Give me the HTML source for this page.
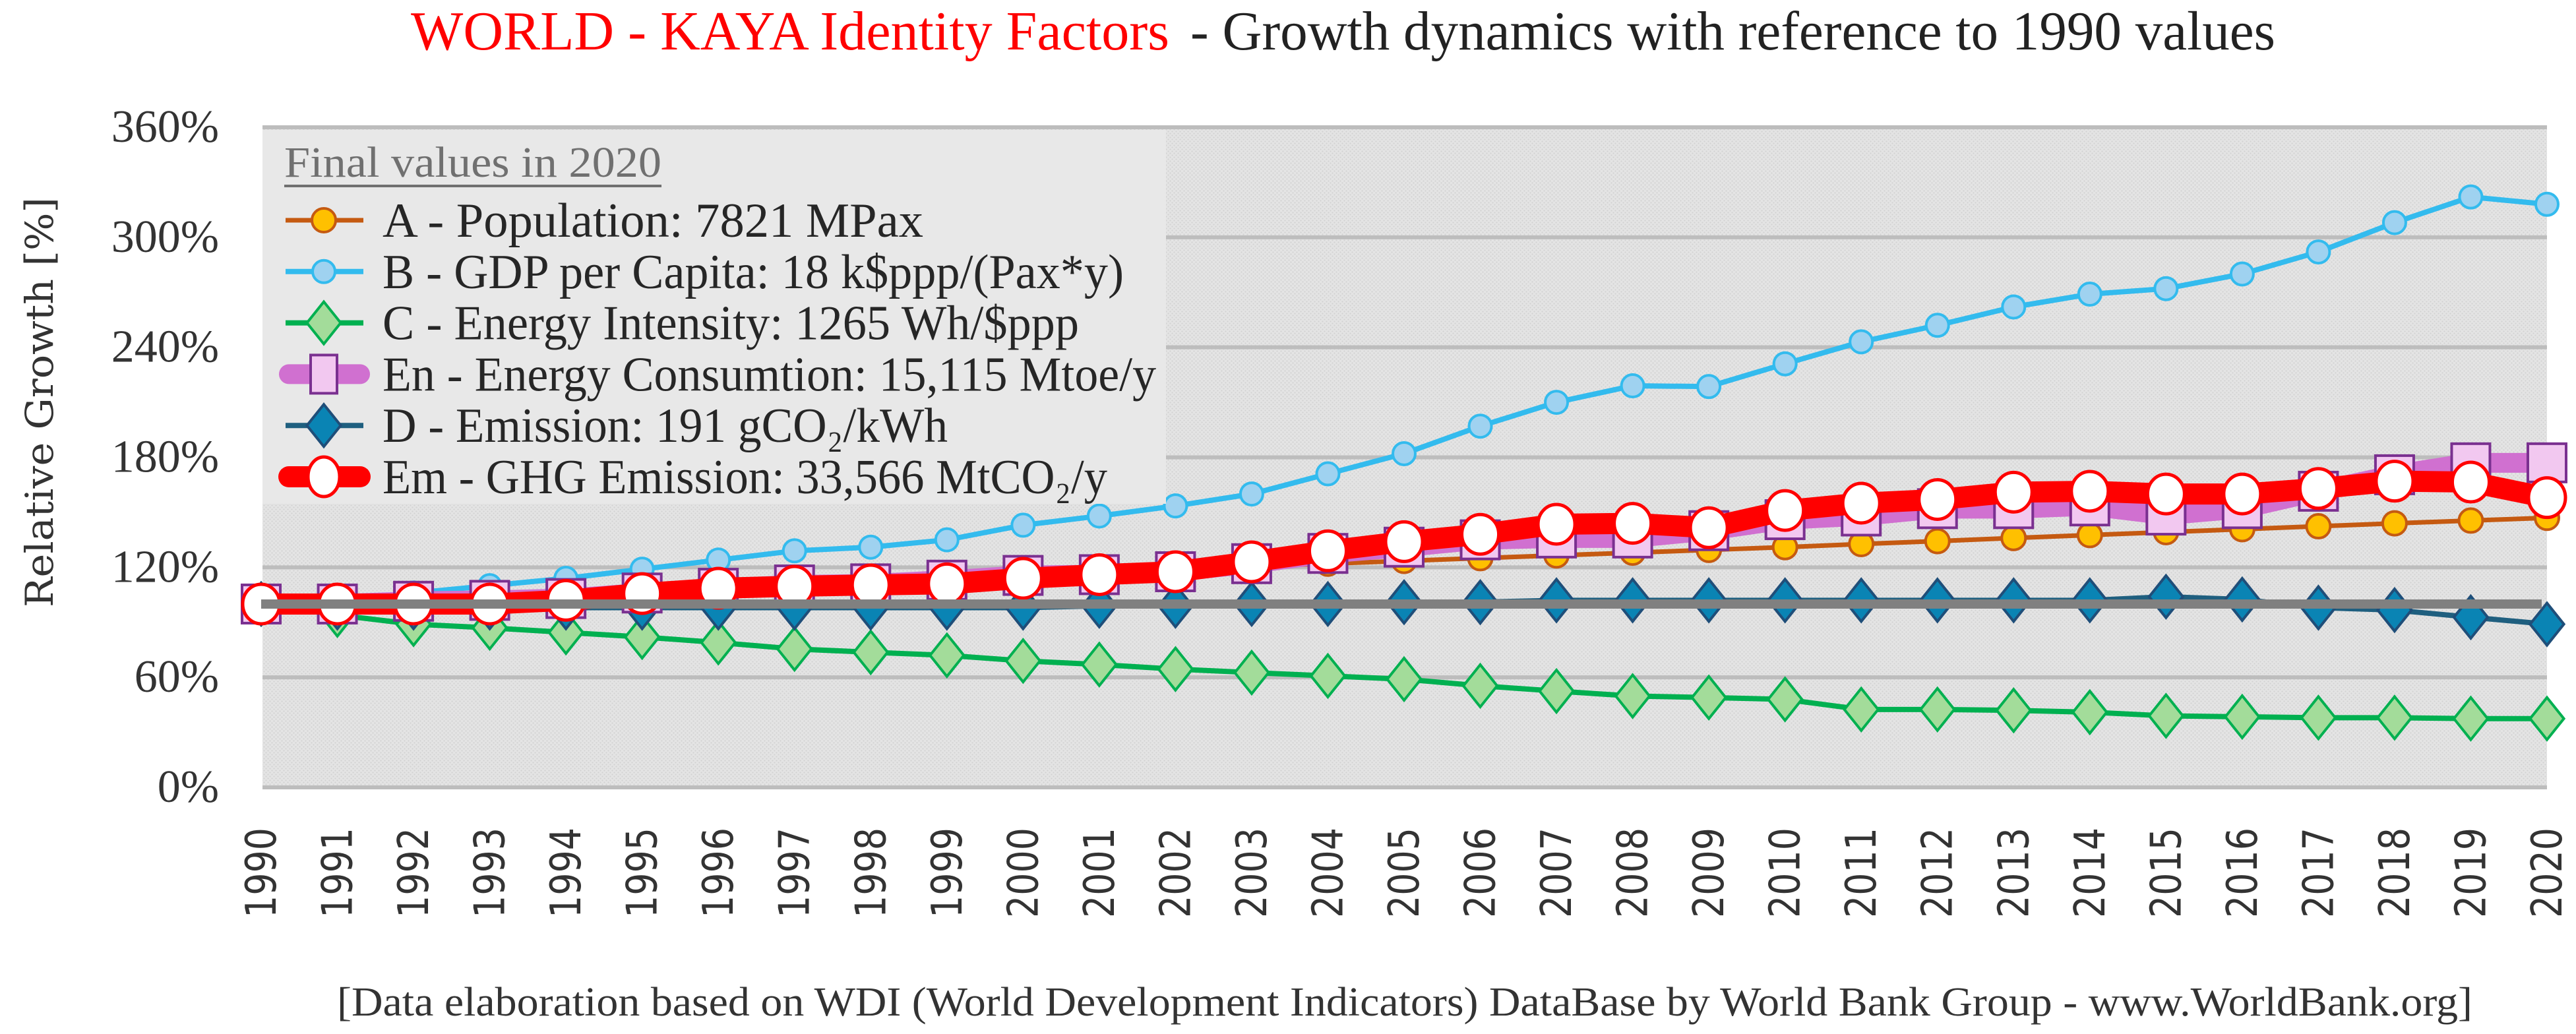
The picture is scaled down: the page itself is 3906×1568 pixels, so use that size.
<!DOCTYPE html>
<html><head><meta charset="utf-8"><style>
html,body{margin:0;padding:0;background:#fff;}
svg{display:block;}
</style></head><body>
<svg id="chart" width="3906" height="1568" viewBox="0 0 3906 1568" xmlns="http://www.w3.org/2000/svg">
<defs>
<pattern id="dots" width="6" height="6" patternUnits="userSpaceOnUse">
<rect width="6" height="6" fill="#e4e4e4"/>
<circle cx="1.5" cy="1.5" r="1.1" fill="#d2d2d2"/>
<circle cx="4.5" cy="4.5" r="1.1" fill="#d2d2d2"/>
</pattern>
</defs>
<text x="623" y="75" font-family="Liberation Serif, serif" font-size="84" fill="#ff0000" textLength="1150" lengthAdjust="spacingAndGlyphs">WORLD - KAYA Identity Factors</text>
<text x="1805" y="75" font-family="Liberation Serif, serif" font-size="84" fill="#222" textLength="1645" lengthAdjust="spacingAndGlyphs">- Growth dynamics with reference to 1990 values</text>
<rect x="398" y="193" width="3464" height="1001" fill="url(#dots)"/>
<g id="grid"></g>
<g id="yticks"></g>
<g id="xticks"></g>
<text transform="translate(80,610) rotate(-90)" text-anchor="middle" font-family="DejaVu Serif, serif" font-size="58" fill="#333" textLength="622" lengthAdjust="spacingAndGlyphs">Relative Growth [%]</text>
<g id="series"></g>
<g id="legend"></g>
<text x="511" y="1540" font-family="Liberation Serif, serif" font-size="62" fill="#333" textLength="3238" lengthAdjust="spacingAndGlyphs">[Data elaboration based on WDI (World Development Indicators) DataBase by World Bank Group - www.WorldBank.org]</text>
</svg>
<script>
const years = [1990,1991,1992,1993,1994,1995,1996,1997,1998,1999,2000,2001,2002,2003,2004,2005,2006,2007,2008,2009,2010,2011,2012,2013,2014,2015,2016,2017,2018,2019,2020];
const yTicks = [0,60,120,180,240,300,360];
const popA = [100,101.7,103.3,104.9,106.5,108,109.5,111,112.5,114,116,117.5,119,120.5,122,123.5,125,126.5,128,129.5,131,132.7,134.3,136,137.6,139.2,140.8,142.4,144,145.5,147];
const gdpB = [100,102,106,110,114,119,124,129,131,135,143,148,153.5,160,171,182,197,210,219,218.6,231,243,252,262,269,272,280,292,308,322,318];
const intC = [100,94,89,87,84.5,82,79,75.5,73.7,72,69,67,64.5,62.6,60.8,59,55.4,52.5,49.8,49,48,42.5,42.5,42,41,39,38.5,38,38,37.5,37.5];
const energyEn = [100,100,101.5,102,103,106,108.6,110.4,111,113,115.6,116,117.6,122,127.6,131,135,136,136,140,146,148,152,152,153.5,148.5,152,161.5,170.5,177,177];
const emisD = [100,98,98,98,98,98,98,98,98,98,98,99,99,100,100,101,101,102,102,102,102,102,102,102,102,104,102.5,98,96.7,92.8,89];
const ghgEm = [100,100,100,100,102,105.7,108.6,109.7,110.4,111,114,116,117.6,123,129,134,138,143.5,144,141.6,151,155,157,161,161.5,160,160,163,167,166.5,158];
const baseline = 100;

const NS='http://www.w3.org/2000/svg';
const X0=396, X1=3862, Y0=1194, Y1=193;
function xs(i){return X0+(X1-X0)*i/(years.length-1);}
function ys(v){return Y0-(Y0-Y1)*v/360;}
function mk(tag,attrs,parent){const e=document.createElementNS(NS,tag);for(const k in attrs)e.setAttribute(k,attrs[k]);parent.appendChild(e);return e;}

const grid=document.getElementById('grid'), yt=document.getElementById('yticks'), xt=document.getElementById('xticks');
yTicks.forEach(v=>{
  const l=mk('line',{x1:398,x2:3862,y1:ys(v),y2:ys(v),stroke:'#bdbdbd','stroke-width':6},grid);
  
  
  const t=mk('text',{x:332,y:ys(v)+22,'text-anchor':'end','font-family':'Liberation Serif, serif','font-size':70,fill:'#333'},yt);
  t.textContent=v+'%';
  
  
});
years.forEach((y,i)=>{
  const t=mk('text',{transform:'translate('+(xs(i)+22)+',1255) rotate(-90)','text-anchor':'end','font-family':'DejaVu Sans, sans-serif','font-size':64,fill:'#333',textLength:137,lengthAdjust:'spacingAndGlyphs'},xt);
  t.textContent=y;
  
  
});

const S=document.getElementById('series');
function pts(arr){return arr.map((v,i)=>xs(i)+','+ys(v)).join(' ');}
function diamond(g,cx,cy,r,fill,stroke){return mk('polygon',{points:`${cx},${cy-r} ${cx+r*0.8},${cy} ${cx},${cy+r} ${cx-r*0.8},${cy}`,fill:fill,stroke:stroke,'stroke-width':4},g);}
function drawSeries(name,arr,lineColor,lw,marker){
  const g=mk('g',{},S);
  
  
  const pl=mk('polyline',{points:pts(arr),fill:'none',stroke:lineColor,'stroke-width':lw,'stroke-linejoin':'round','stroke-linecap':'round'},g);
  
  
  arr.forEach((v,i)=>{
    const m=marker(g,xs(i),ys(v));
    
    
  });
}
drawSeries('series-c-energy-intensity',intC,'#00b050',8,(g,x,y)=>diamond(g,x,y,32,'#a3dc9a','#00b050'));
drawSeries('series-d-emission',emisD,'#1f5f7f',8,(g,x,y)=>diamond(g,x,y,32,'#0a84b4','#1f4e79'));
drawSeries('series-a-population',popA,'#c55a11',7,(g,x,y)=>mk('circle',{cx:x,cy:y,r:18,fill:'#ffc000',stroke:'#c55a11','stroke-width':4},g));
drawSeries('series-b-gdp',gdpB,'#33bbee',8,(g,x,y)=>mk('circle',{cx:x,cy:y,r:17,fill:'#9fd2f0',stroke:'#33bbee','stroke-width':4},g));
drawSeries('series-en-energy',energyEn,'#d070d0',30,(g,x,y)=>mk('rect',{x:x-29,y:y-29,width:58,height:58,fill:'#f2c8f0',stroke:'#7a3090','stroke-width':4},g));
drawSeries('series-em-ghg',ghgEm,'#ff0000',32,(g,x,y)=>mk('ellipse',{cx:x,cy:y,rx:28,ry:30,fill:'#fff',stroke:'#ff0000','stroke-width':5},g));
const bl=mk('line',{x1:xs(0),x2:xs(years.length-1)-8,y1:ys(baseline),y2:ys(baseline),stroke:'#808080','stroke-width':14},S);



// legend
const L=document.getElementById('legend');
const lb=mk('rect',{x:398,y:197,width:1370,height:567,fill:'#e8e8e8'},L);


const lt=mk('text',{x:431,y:268,'font-family':'Liberation Serif, serif','font-size':66,fill:'#707070',textLength:572,lengthAdjust:'spacingAndGlyphs'},L);
lt.textContent='Final values in 2020';


const ul=mk('line',{x1:431,x2:1003,y1:282,y2:282,stroke:'#707070','stroke-width':4},L);


const entries=[
 ['A - Population: 7821 MPax',820,'legend-entry-a'],
 ['B - GDP per Capita: 18 k$ppp/(Pax*y)',1124,'legend-entry-b'],
 ['C - Energy Intensity: 1265 Wh/$ppp',1056,'legend-entry-c'],
 ['En - Energy Consumtion: 15,115 Mtoe/y',1173,'legend-entry-en'],
 ['D - Emission: 191 gCO₂/kWh',857,'legend-entry-d'],
 ['Em - GHG Emission: 33,566 MtCO₂/y',1099,'legend-entry-em']
];
const lgMarkers=[
 (g,y)=>{mk('line',{x1:433,x2:551,y1:y,y2:y,stroke:'#c55a11','stroke-width':7},g);mk('circle',{cx:491,cy:y,r:18,fill:'#ffc000',stroke:'#c55a11','stroke-width':4},g);},
 (g,y)=>{mk('line',{x1:433,x2:551,y1:y,y2:y,stroke:'#33bbee','stroke-width':8},g);mk('circle',{cx:491,cy:y,r:17,fill:'#9fd2f0',stroke:'#33bbee','stroke-width':4},g);},
 (g,y)=>{mk('line',{x1:433,x2:551,y1:y,y2:y,stroke:'#00b050','stroke-width':8},g);diamond(g,491,y,32,'#a3dc9a','#00b050');},
 (g,y)=>{mk('line',{x1:438,x2:546,y1:y,y2:y,stroke:'#d070d0','stroke-width':30,'stroke-linecap':'round'},g);mk('rect',{x:471,y:y-29,width:40,height:58,fill:'#f2c8f0',stroke:'#7a3090','stroke-width':4},g);},
 (g,y)=>{mk('line',{x1:433,x2:551,y1:y,y2:y,stroke:'#1f5f7f','stroke-width':8},g);diamond(g,491,y,32,'#0a84b4','#1f4e79');},
 (g,y)=>{mk('line',{x1:438,x2:546,y1:y,y2:y,stroke:'#ff0000','stroke-width':32,'stroke-linecap':'round'},g);mk('ellipse',{cx:491,cy:y,rx:24,ry:30,fill:'#fff',stroke:'#ff0000','stroke-width':5},g);}
];
entries.forEach((e,i)=>{
  const base=359+i*77.8;
  const g=mk('g',{},L);
  
  
  lgMarkers[i](g,base-25);
  const t=mk('text',{x:580,y:base,'font-family':'Liberation Serif, serif','font-size':74,fill:'#262626',textLength:e[1],lengthAdjust:'spacingAndGlyphs'},g);
  t.textContent=e[0];
  
  
});
</script>
</body></html>
